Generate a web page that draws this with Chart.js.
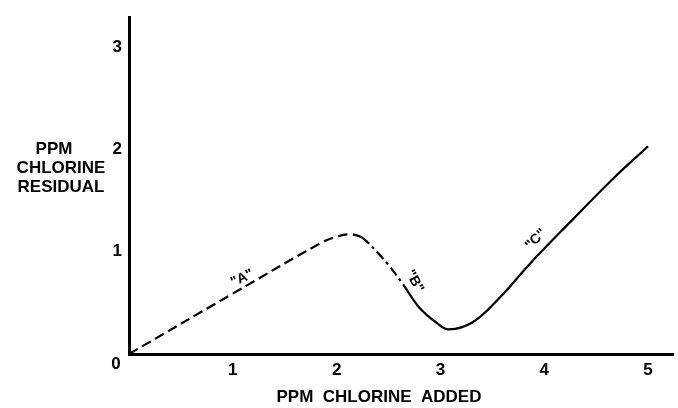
<!DOCTYPE html>
<html>
<head>
<meta charset="utf-8">
<script src="https://cdn.jsdelivr.net/npm/chart.js@4/dist/chart.umd.min.js"></script>
<style>
  html, body { margin: 0; background: #fff; }
  #wrap { width: 678px; height: 408px; }
</style>
</head>
<body>
<div id="wrap"><canvas id="chart"></canvas></div>
<script>
// courbe de chloration au point de rupture
const addedPpm    = [0, 1.0, 1.84, 1.98, 2.13, 2.24, 2.32, 2.49, 2.64, 2.80, 2.97, 3.08, 3.31, 3.57, 3.86, 4.28, 4.66, 5.0];
const residualPpm = [0, 0.59, 1.08, 1.14, 1.17, 1.14, 1.07, 0.88, 0.68, 0.45, 0.30, 0.24, 0.31, 0.55, 0.88, 1.32, 1.71, 2.03];
const xTicks = [1, 2, 3, 4, 5];
const yTicks = [1, 2, 3];

// repères "A" "B" "C" le long de la courbe
const noteText  = ['"A"', '"B"', '"C"'];
const noteX     = [1.09, 2.75, 3.92];
const noteY     = [0.74, 0.71, 1.12];
const noteAngle = [-25, 62, -45];

const DASH_END = 2.24;    // tirets jusqu'au sommet
const DASHDOT_END = 2.64; // trait-point jusqu'à "B", puis trait plein

const FONT = '"Liberation Sans", Arial, sans-serif';

const labelsPlugin = {
  id: 'labels',
  afterDraw(chart) {
    const { ctx, scales: { x, y } } = chart;
    ctx.save();
    ctx.fillStyle = '#000';
    ctx.textAlign = 'center';
    ctx.textBaseline = 'middle';

    // notes sur la courbe
    ctx.font = 'bold 14px ' + FONT;
    noteText.forEach((t, i) => {
      ctx.save();
      ctx.translate(x.getPixelForValue(noteX[i]), y.getPixelForValue(noteY[i]));
      ctx.rotate(noteAngle[i] * Math.PI / 180);
      ctx.fillText(t, 0, 0);
      ctx.restore();
    });

    // origine
    ctx.font = 'bold 17px ' + FONT;
    ctx.fillText('0', chart.chartArea.left - 13, chart.chartArea.bottom + 10);

    // titre Y sur trois lignes
    ctx.fillText('PPM', 54, 149);
    ctx.fillText('CHLORINE', 61, 168);
    ctx.fillText('RESIDUAL', 61, 187);

    // titre X
    ctx.fillText('PPM  CHLORINE  ADDED', 379, 397);
    ctx.restore();
  }
};

new Chart(document.getElementById('chart'), {
  type: 'line',
  data: {
    datasets: [{
      data: addedPpm.map((v, i) => ({ x: v, y: residualPpm[i] })),
      borderColor: '#000',
      borderWidth: 2.2,
      pointRadius: 0,
      tension: 0.4,
      segment: {
        borderDash: c => c.p0.parsed.x < DASH_END ? [10, 5]
                       : c.p0.parsed.x < DASHDOT_END ? [10, 4, 3, 4]
                       : []
      }
    }]
  },
  options: {
    responsive: true,
    maintainAspectRatio: false,
    animation: false,
    layout: { padding: { top: 13, right: 5, left: 0, bottom: 0 } },
    plugins: { legend: { display: false }, tooltip: { enabled: false } },
    scales: {
      x: {
        type: 'linear',
        min: 0,
        max: 5.24,
        afterBuildTicks: s => { s.ticks = xTicks.map(v => ({ value: v })); },
        afterFit: s => { s.height = 54; },
        grid: { display: false, drawTicks: false },
        border: { color: '#000', width: 3 },
        ticks: { color: '#000', padding: 6, font: { family: FONT, size: 17, weight: 'bold' } }
      },
      y: {
        min: 0,
        max: 3.29,
        afterBuildTicks: s => { s.ticks = yTicks.map(v => ({ value: v })); },
        afterFit: s => { s.width = 129; },
        grid: { display: false, drawTicks: false },
        border: { color: '#000', width: 3 },
        ticks: { color: '#000', padding: 7, font: { family: FONT, size: 17, weight: 'bold' } }
      }
    }
  },
  plugins: [labelsPlugin]
});
</script>
</body>
</html>
